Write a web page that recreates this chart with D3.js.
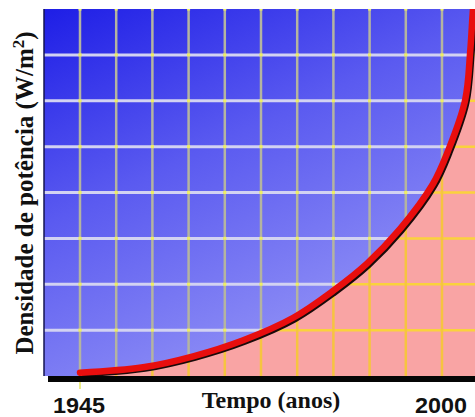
<!DOCTYPE html>
<html>
<head>
<meta charset="utf-8">
<script src="https://cdn.jsdelivr.net/npm/d3@7"></script>
<style>
  body { margin: 0; background: white; }
</style>
</head>
<body>
<script>
// values
var years   = [1945, 1954.6, 1962.2, 1969.8, 1977.4, 1983.4, 1988.6, 1993.6, 1998.6, 2000.9, 2003.5, 2004.3, 2004.7, 2005.0];
var density = [0.07, 0.19, 0.43, 0.78, 1.27, 1.85, 2.45, 3.2, 4.18, 4.9, 6.0, 7.1, 7.97, 8.4];
var tick_years = [1945, 2000];
var grid_years = d3.range(1945, 2006, 5.5);
var grid_density = [1, 2, 3, 4, 5, 6, 7];

var width = 475, height = 417;
var plot_left = 44, plot_right = 475, plot_top = 9, plot_bottom = 376;

var svg = d3.select("body").append("svg")
  .attr("width", width)
  .attr("height", height);

var scale_x = d3.scaleLinear().domain([1945, 2000]).range([80, 442]);
var scale_y = d3.scaleLinear().domain([0, 8]).range([plot_bottom, plot_top]);

var defs = svg.append("defs");
var grad = defs.append("linearGradient")
  .attr("id", "bluegrad")
  .attr("x1", 0).attr("y1", 0).attr("x2", 0.55).attr("y2", 1);
grad.append("stop").attr("offset", "0%").attr("stop-color", "#1e1ee6");
grad.append("stop").attr("offset", "45%").attr("stop-color", "#5a5af0");
grad.append("stop").attr("offset", "100%").attr("stop-color", "#9494f6");

defs.append("clipPath").attr("id", "plotclip")
  .append("rect")
  .attr("x", plot_left).attr("y", plot_top)
  .attr("width", plot_right - plot_left).attr("height", plot_bottom - plot_top);

var pts = years.map(function(d, i) { return [scale_x(d), scale_y(density[i])]; });

var line_function = d3.line().curve(d3.curveCatmullRom.alpha(0.5));
var curve_d = line_function(pts);
var pink_d = curve_d + "L" + (plot_right + 10) + "," + (plot_top - 20) +
  "L" + (plot_right + 10) + "," + (plot_bottom + 10) +
  "L" + scale_x(1945) + "," + (plot_bottom + 10) + "Z";

defs.append("clipPath").attr("id", "pinkclip")
  .append("path").attr("d", pink_d);

var plot = svg.append("g").attr("clip-path", "url(#plotclip)");

plot.append("rect")
  .attr("x", plot_left).attr("y", plot_top)
  .attr("width", plot_right - plot_left).attr("height", plot_bottom - plot_top)
  .attr("fill", "url(#bluegrad)");

/*
* grid on the blue part
*/
plot.selectAll(".hgrid")
  .data(grid_density)
  .enter().append("line")
  .attr("class", "hgrid")
  .attr("x1", plot_left).attr("x2", plot_right)
  .attr("y1", function(d) { return scale_y(d); })
  .attr("y2", function(d) { return scale_y(d); })
  .attr("stroke", "#d2d2f2")
  .attr("stroke-width", 3);

plot.selectAll(".vgrid")
  .data(grid_years)
  .enter().append("line")
  .attr("class", "vgrid")
  .attr("x1", function(d) { return scale_x(d); })
  .attr("x2", function(d) { return scale_x(d); })
  .attr("y1", plot_top).attr("y2", plot_bottom)
  .attr("stroke", "#b4b4a0")
  .attr("stroke-width", 2.5);

var cross = [];
grid_years.forEach(function(a) {
  [8].concat(grid_density).forEach(function(b) { cross.push([a, b]); });
});
plot.selectAll(".dot")
  .data(cross)
  .enter().append("rect")
  .attr("class", "dot")
  .attr("x", function(d) { return scale_x(d[0]) - 1.5; })
  .attr("y", function(d) { return scale_y(d[1]) - 1.5; })
  .attr("width", 3).attr("height", 3)
  .attr("fill", "#f0f060");

/*
* pink part below the curve
*/
var pink = plot.append("g").attr("clip-path", "url(#pinkclip)");
pink.append("rect")
  .attr("x", plot_left).attr("y", plot_top)
  .attr("width", plot_right - plot_left).attr("height", plot_bottom - plot_top)
  .attr("fill", "#f9a4a4");

pink.selectAll(".phgrid")
  .data(grid_density)
  .enter().append("line")
  .attr("x1", plot_left).attr("x2", plot_right)
  .attr("y1", function(d) { return scale_y(d); })
  .attr("y2", function(d) { return scale_y(d); })
  .attr("stroke", "#fad23c")
  .attr("stroke-width", 2.5);

pink.selectAll(".pvgrid")
  .data(grid_years)
  .enter().append("line")
  .attr("x1", function(d) { return scale_x(d); })
  .attr("x2", function(d) { return scale_x(d); })
  .attr("y1", plot_top).attr("y2", plot_bottom)
  .attr("stroke", "#f6c440")
  .attr("stroke-width", 2.5);

// curve with its dark shadow
plot.append("path")
  .attr("d", curve_d)
  .attr("transform", "translate(2,2)")
  .attr("fill", "none")
  .attr("stroke", "#1a0a0a")
  .attr("stroke-width", 5);

plot.append("path")
  .attr("d", curve_d)
  .attr("fill", "none")
  .attr("stroke", "#e80e0e")
  .attr("stroke-width", 6.5)
  .attr("stroke-linecap", "round");

// left edge and bottom bar
svg.append("line")
  .attr("x1", plot_left).attr("x2", plot_left)
  .attr("y1", plot_top).attr("y2", plot_bottom)
  .attr("stroke", "#141450")
  .attr("stroke-width", 1.5);

svg.append("rect")
  .attr("x", 48).attr("y", plot_bottom)
  .attr("width", plot_right - 48).attr("height", 6)
  .attr("fill", "#050505");

svg.append("line")
  .attr("x1", scale_x(1945)).attr("x2", scale_x(1945))
  .attr("y1", plot_bottom + 6).attr("y2", plot_bottom + 13)
  .attr("stroke", "#e8e860")
  .attr("stroke-width", 1.5);

/*
* texts
*/
svg.selectAll(".tick")
  .data(tick_years)
  .enter().append("text")
  .attr("x", function(d) { return scale_x(d) - 1; })
  .attr("y", 413)
  .attr("text-anchor", "middle")
  .attr("font-family", "Liberation Sans")
  .attr("font-weight", "bold")
  .attr("font-size", 22)
  .attr("textLength", 52)
  .attr("lengthAdjust", "spacingAndGlyphs")
  .attr("fill", "#111")
  .text(function(d) { return d; });

svg.append("text")
  .attr("x", 271)
  .attr("y", 408)
  .attr("text-anchor", "middle")
  .attr("font-family", "Liberation Serif")
  .attr("font-weight", "bold")
  .attr("font-size", 24)
  .attr("fill", "#111")
  .text("Tempo (anos)");

var ylab = svg.append("text")
  .attr("transform", "translate(33,193) rotate(-90)")
  .attr("text-anchor", "middle")
  .attr("font-family", "Liberation Serif")
  .attr("font-weight", "bold")
  .attr("font-size", 25)
  .attr("fill", "#111");
ylab.append("tspan").text("Densidade de potência (W/m");
ylab.append("tspan").attr("dy", -9).attr("font-size", 17).text("2");
ylab.append("tspan").attr("dy", 9).text(")");
</script>
</body>
</html>
